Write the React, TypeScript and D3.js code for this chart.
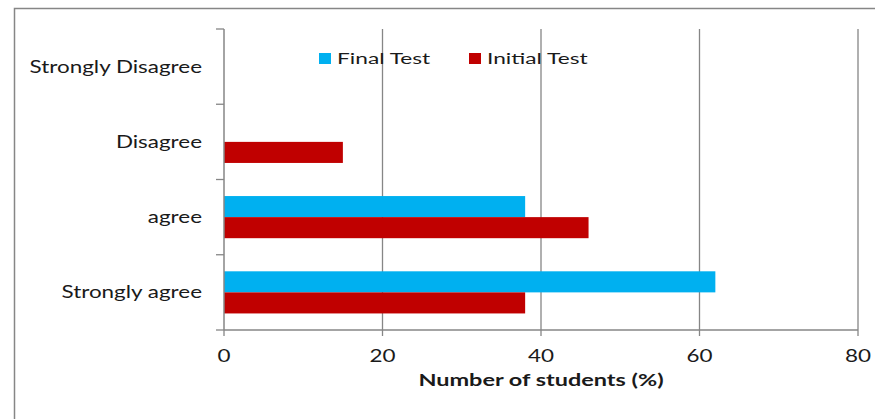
import React from 'react';
import * as d3 from 'd3';

// categories, top to bottom
const categories = ['Strongly Disagree', 'Disagree', 'agree', 'Strongly agree'];
const series = ['Final Test', 'Initial Test'];
const finalTest = [0, 0, 38, 62];
const initialTest = [0, 15, 46, 38];
const xTicks = [0, 20, 40, 60, 80];
const colors = ['#00B0F0', '#C00000'];

const W = 875;
const H = 419;
const margin = { top: 29, right: 17, bottom: 89, left: 224 };
const grid = '#868686';
const font = 'Lato, "Open Sans", sans-serif';
const SX = 1.32;

const Txt = ({ x, y, anchor = 'start', size = 17, weight = 400, sx = SX, children }: any) => (
  <text
    transform={`translate(${x},${y}) scale(${sx},1)`}
    textAnchor={anchor}
    fontSize={size}
    fontWeight={weight}
    fontFamily={font}
    fill="#1a1a1a"
  >
    {children}
  </text>
);

const App = () => {
  const x = d3.scaleLinear().domain([0, 80]).range([margin.left, W - margin.right]);
  const y = d3
    .scaleBand()
    .domain(categories)
    .range([margin.top, H - margin.bottom])
    .paddingInner(0.44)
    .paddingOuter(0.22);
  const inner = d3.scaleBand().domain(series).range([0, y.bandwidth()]);
  const step = y.step();
  const bottom = H - margin.bottom;
  const values = [finalTest, initialTest];

  return (
    <svg width={W} height={H} style={{ position: 'absolute', left: 0, top: 0 }}>
      <rect width={W} height={H} fill="#fff" />
      {/* outer frame */}
      <path d={`M14.5,${H} V8.5 H${W}`} fill="none" stroke={grid} strokeWidth={1.5} />

      {/* gridlines */}
      {xTicks.slice(1).map((t) => (
        <line key={t} x1={x(t)} x2={x(t)} y1={margin.top} y2={bottom} stroke={grid} strokeWidth={1.3} />
      ))}

      {/* bars */}
      {categories.map((c, i) =>
        series.map((s, j) =>
          values[j][i] > 0 ? (
            <rect
              key={c + s}
              x={x(0)}
              y={(y(c) as number) + (inner(s) as number)}
              width={x(values[j][i]) - x(0)}
              height={inner.bandwidth()}
              fill={colors[j]}
            />
          ) : null
        )
      )}

      {/* category axis */}
      <line x1={x(0)} x2={x(0)} y1={margin.top} y2={bottom} stroke={grid} strokeWidth={1.5} />
      {d3.range(categories.length + 1).map((k) => {
        const yy = margin.top + k * step;
        return <line key={k} x1={x(0) - 8} x2={x(0)} y1={yy} y2={yy} stroke={grid} strokeWidth={1.3} />;
      })}
      {categories.map((c) => (
        <Txt key={c} x={202} y={(y(c) as number) + y.bandwidth() / 2 + 6} anchor="end">
          {c}
        </Txt>
      ))}

      {/* value axis */}
      <line x1={x(0)} x2={W - margin.right} y1={bottom} y2={bottom} stroke={grid} strokeWidth={1.3} />
      {xTicks.map((t) => (
        <g key={t}>
          <line x1={x(t)} x2={x(t)} y1={bottom} y2={bottom + 6} stroke={grid} strokeWidth={1.3} />
          <Txt x={x(t)} y={bottom + 32} anchor="middle" size={17}>
            {t}
          </Txt>
        </g>
      ))}
      <Txt x={(x(0) + x(80)) / 2} y={bottom + 56} anchor="middle" size={17} weight={700} sx={1.38}>
        Number of students (%)
      </Txt>

      {/* legend */}
      {series.map((s, j) => {
        const lx = 319 + j * 150;
        return (
          <g key={s}>
            <rect x={lx} y={53} width={12} height={11} fill={colors[j]} />
            <Txt x={lx + 18} y={64} size={16} sx={1.42}>
              {s}
            </Txt>
          </g>
        );
      })}
    </svg>
  );
};

export default App;
